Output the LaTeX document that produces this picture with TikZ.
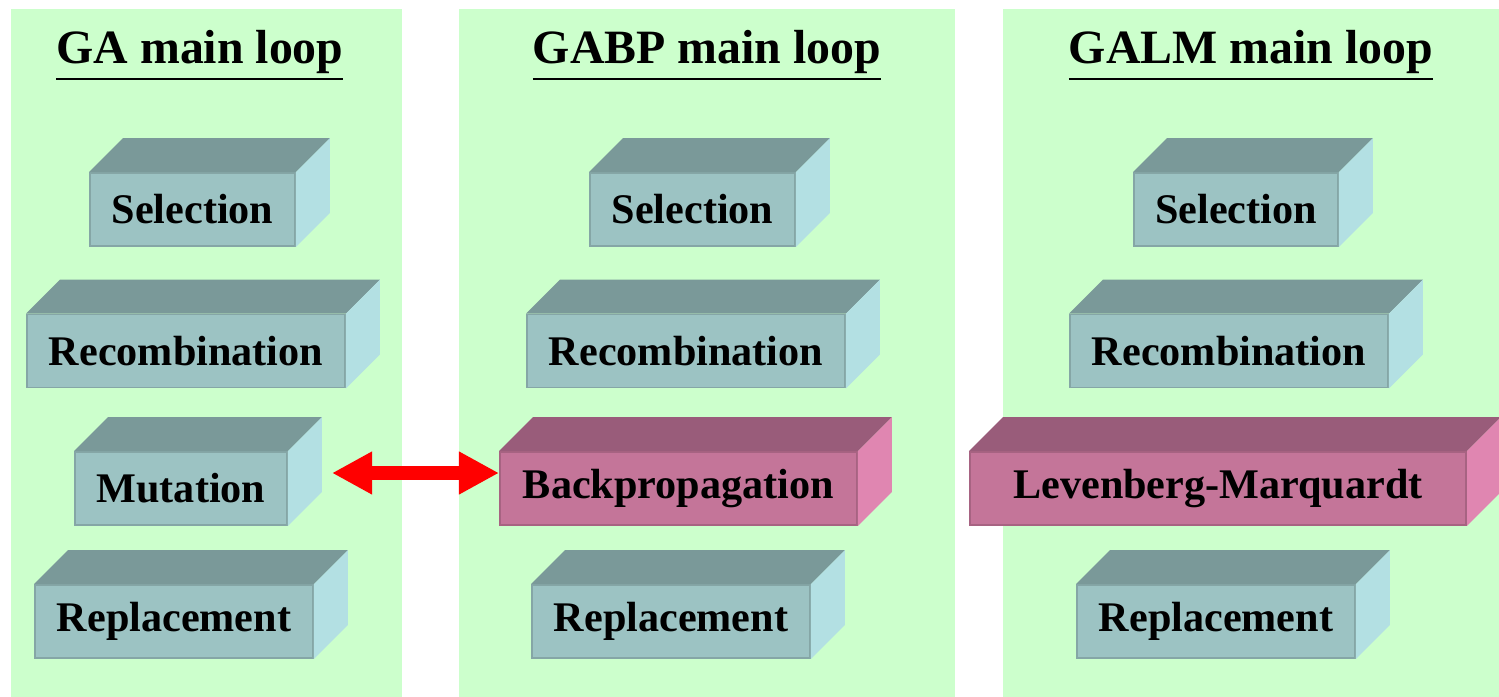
\documentclass[tikz,border=0pt]{standalone}
\usepackage{fontspec}
\setmainfont{Liberation Serif}
\usetikzlibrary{arrows.meta,calc}
\definecolor{panelgreen}{HTML}{CCFFCC}
\definecolor{tealfront}{HTML}{9CC3C3}
\definecolor{tealtop}{HTML}{7A9999}
\definecolor{tealside}{HTML}{B3E0E3}
\definecolor{pinkfront}{HTML}{C47599}
\definecolor{pinktop}{HTML}{995C7A}
\definecolor{pinkside}{HTML}{E086B1}
\tikzset{
  title/.style={font=\fontsize{13.6}{16}\selectfont\bfseries},
  slab/.style={draw=#1front!85!black, line width=0.5pt, fill=#1front, minimum height=0.73cm,
    inner sep=0pt, font=\fontsize{12}{14}\selectfont\bfseries},
  dbl/.style={red, line width=1.4mm, {Triangle[length=4mm,width=4mm]}-{Triangle[length=4mm,width=4mm]}}
}
% top and side of a slab, hung on the corners of its front node
\newcommand{\faces}[2]{%
  \fill[#2top] (#1.north west) -- ++(34,-34) -- ($(#1.north east)+(34,-34)$) -- (#1.north east) -- cycle;
  \fill[#2side] (#1.north east) -- ++(34,-34) -- ($(#1.south east)+(34,-34)$) -- (#1.south east) -- cycle;}
\begin{document}
\begin{tikzpicture}[x=0.01cm,y=-0.01cm]
\useasboundingbox (0,0) rectangle (1499,697);
\fill[panelgreen] (11,9) rectangle (402,697);
\fill[panelgreen] (459,9) rectangle (955,697);
\fill[panelgreen] (1003,9) rectangle (1499,697);
\node[title] (tA) at (200,56) {\underline{GA main loop}};
\node[title] (tB) at (707,56) {\underline{GABP main loop}};
\node[title] (tC) at (1251,56) {\underline{GALM main loop}};
% GA
\node[slab=teal, minimum width=2.05cm] (selA) at (192.5,209.5) {Selection};
\node[slab=teal, minimum width=3.18cm] (recA) at (186,351) {Recombination};
\node[slab=teal, minimum width=2.12cm] (mutA) at (181,488.5) {Mutation};
\node[slab=teal, minimum width=2.78cm] (repA) at (174,621.5) {Replacement};
\faces{selA}{teal}\faces{recA}{teal}\faces{mutA}{teal}\faces{repA}{teal}
% GABP
\node[slab=teal, minimum width=2.05cm] (selB) at (692.5,209.5) {Selection};
\node[slab=teal, minimum width=3.18cm] (recB) at (686,351) {Recombination};
\node[slab=pink, minimum width=3.57cm] (bpB) at (678.5,488.5) {Backpropagation};
\node[slab=teal, minimum width=2.78cm] (repB) at (671,621.5) {Replacement};
\faces{selB}{teal}\faces{recB}{teal}\faces{bpB}{pink}\faces{repB}{teal}
% GALM
\node[slab=teal, minimum width=2.04cm] (selC) at (1236,209.5) {Selection};
\node[slab=teal, minimum width=3.18cm] (recC) at (1229,351) {Recombination};
\node[slab=pink, minimum width=4.96cm] (lmC) at (1218,488.5) {Levenberg-Marquardt};
\node[slab=teal, minimum width=2.78cm] (repC) at (1216,621.5) {Replacement};
\faces{selC}{teal}\faces{recC}{teal}\faces{lmC}{pink}\faces{repC}{teal}
% swap of the mutation step
\coordinate (mutTip) at (332,473);
\draw[dbl] (mutTip) -- (mutTip -| bpB.west);
\end{tikzpicture}
\end{document}
